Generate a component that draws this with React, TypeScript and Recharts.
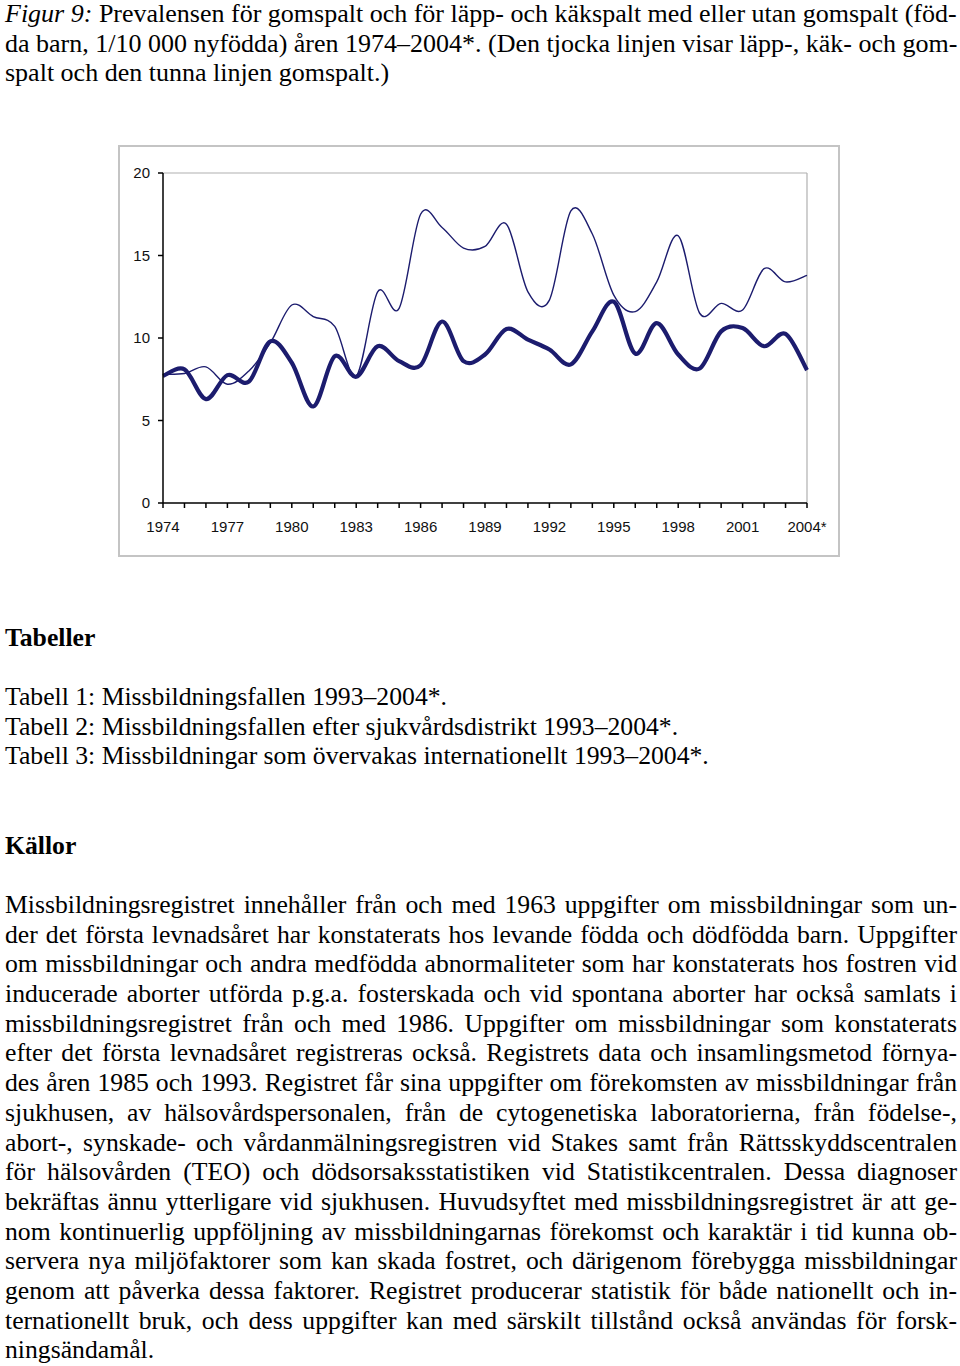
import { LineChart, Line, XAxis, YAxis, ReferenceLine } from "recharts";

const years = [
  "1974", "1975", "1976", "1977", "1978", "1979", "1980", "1981", "1982", "1983",
  "1984", "1985", "1986", "1987", "1988", "1989", "1990", "1991", "1992", "1993",
  "1994", "1995", "1996", "1997", "1998", "1999", "2000", "2001", "2002", "2003", "2004*",
];
// tjocka linjen: läpp-, käk- och gomspalt
const lkg = [
  7.7, 8.1, 6.3, 7.75, 7.35, 9.8, 8.5, 5.85, 8.9, 7.65,
  9.5, 8.6, 8.35, 11.0, 8.6, 9.0, 10.55, 9.9, 9.3, 8.4,
  10.4, 12.2, 9.05, 10.9, 9.0, 8.15, 10.4, 10.6, 9.5, 10.25, 8.05,
];
// tunna linjen: gomspalt
const gom = [
  7.8, 7.85, 8.25, 7.2, 8.0, 9.7, 12.0, 11.3, 10.7, 7.7,
  12.8, 11.8, 17.5, 16.7, 15.45, 15.55, 16.9, 12.8, 12.3, 17.7,
  16.3, 12.6, 11.6, 13.4, 16.2, 11.5, 12.1, 11.7, 14.2, 13.4, 13.8,
];
const yTicks = [0, 5, 10, 15, 20];

const data = years.map((year, i) => ({ year, lkg: lkg[i], gom: gom[i] }));

const titleLines = [
  "Figur 9: Prevalensen för gomspalt och för läpp- och käkspalt med eller utan gomspalt (föd-",
  "da barn, 1/10 000 nyfödda) åren 1974–2004*. (Den tjocka linjen visar läpp-, käk- och gom-",
  "spalt och den tunna linjen gomspalt.)",
];
const tabLines = [
  "Tabell 1: Missbildningsfallen 1993–2004*.",
  "Tabell 2: Missbildningsfallen efter sjukvårdsdistrikt 1993–2004*.",
  "Tabell 3: Missbildningar som övervakas internationellt 1993–2004*.",
];
const bodyLines = [
  "Missbildningsregistret innehåller från och med 1963 uppgifter om missbildningar som un-",
  "der det första levnadsåret har konstaterats hos levande födda och dödfödda barn. Uppgifter",
  "om missbildningar och andra medfödda abnormaliteter som har konstaterats hos fostren vid",
  "inducerade aborter utförda p.g.a. fosterskada och vid spontana aborter har också samlats i",
  "missbildningsregistret från och med 1986. Uppgifter om missbildningar som konstaterats",
  "efter det första levnadsåret registreras också. Registrets data och insamlingsmetod  förnya-",
  "des åren 1985 och 1993. Registret får sina uppgifter om förekomsten av missbildningar från",
  "sjukhusen, av hälsovårdspersonalen, från de cytogenetiska laboratorierna, från födelse-,",
  "abort-, synskade- och vårdanmälningsregistren vid Stakes samt från Rättsskyddscentralen",
  "för hälsovården (TEO) och dödsorsaksstatistiken vid Statistikcentralen. Dessa diagnoser",
  "bekräftas ännu ytterligare vid sjukhusen. Huvudsyftet med missbildningsregistret är att ge-",
  "nom kontinuerlig uppföljning av missbildningarnas förekomst och karaktär i tid kunna ob-",
  "servera nya miljöfaktorer som kan skada fostret, och därigenom förebygga missbildningar",
  "genom att påverka dessa faktorer. Registret producerar statistik för både nationellt och in-",
  "ternationellt bruk, och dess uppgifter kan med särskilt tillstånd också användas för forsk-",
  "ningsändamål.",
];

// Excel-like smoothed line (cardinal spline, tension 0)
function excelCurve(context: any) {
  let pts: number[][] = [];
  return {
    areaStart() {},
    areaEnd() {},
    lineStart() {
      pts = [];
    },
    point(x: number, y: number) {
      pts.push([+x, +y]);
    },
    lineEnd() {
      if (!pts.length) return;
      context.moveTo(pts[0][0], pts[0][1]);
      for (let i = 0; i < pts.length - 1; i++) {
        const p0 = pts[i - 1] || pts[i];
        const p1 = pts[i];
        const p2 = pts[i + 1];
        const p3 = pts[i + 2] || pts[i + 1];
        context.bezierCurveTo(
          p1[0] + (p2[0] - p0[0]) / 6,
          p1[1] + (p2[1] - p0[1]) / 6,
          p2[0] - (p3[0] - p1[0]) / 6,
          p2[1] - (p3[1] - p1[1]) / 6,
          p2[0],
          p2[1]
        );
      }
    },
  };
}

const serif = "'Liberation Serif', 'Times New Roman', serif";
const sans = "'Liberation Sans', Arial, sans-serif";
const navy = "#1c1c6e";

function YearTick({ x, y, payload, index }: any) {
  if (index % 3 !== 0) return null;
  return (
    <text x={x} y={y} dy="0.71em" textAnchor="middle" fontSize={15} fontFamily={sans} fill="#111">
      {payload.value}
    </text>
  );
}

function Lines({ lines, top, bold = false, last = false }: { lines: string[]; top: number; bold?: boolean; last?: boolean }) {
  return (
    <div style={{ position: "absolute", left: 5, top, width: 952 }}>
      {lines.map((t, i) => (
        <div
          key={i}
          style={{
            whiteSpace: "nowrap",
            textAlign: "left",
            textAlignLast: last && i < lines.length - 1 ? "justify" : "left",
            height: 29.7,
            lineHeight: "29.7px",
            fontWeight: bold ? "bold" : "normal",
          }}
        >
          {t}
        </div>
      ))}
    </div>
  );
}

export default function App() {
  return (
    <div style={{ position: "absolute", left: 0, top: 0, width: 960, height: 1366, fontFamily: serif, fontSize: 25.7, color: "#000", background: "#fff", overflow: "hidden" }}>
      <div style={{ position: "absolute", left: 5, top: 0, width: 950, fontSize: 26 }}>
        {titleLines.map((t, i) => (
          <div
            key={i}
            style={{
              height: i === 0 ? 28.6 : 29.2,
              lineHeight: i === 0 ? "28.6px" : "29.2px",
              textAlignLast: i < 2 ? "justify" : "left",
              whiteSpace: "nowrap",
            }}
          >
            {i === 0 ? (
              <>
                <i>Figur 9:</i>
                {t.slice(8)}
              </>
            ) : (
              t
            )}
          </div>
        ))}
      </div>

      <div style={{ position: "absolute", left: 118, top: 145, width: 718, height: 408, border: "2px solid #c4c4c4" }}>
        <LineChart width={718} height={408} data={data} margin={{ top: 26, right: 31, bottom: 20, left: 11 }}>
          <XAxis
            dataKey="year"
            interval={0}
            tick={<YearTick />}
            tickSize={5}
            tickMargin={13}
            height={32}
            axisLine={{ stroke: "#000", strokeWidth: 1.5 }}
            tickLine={{ stroke: "#000", strokeWidth: 1.5 }}
          />
          <YAxis
            domain={[0, 20]}
            ticks={yTicks}
            width={32}
            tickSize={5}
            tickMargin={8}
            tick={{ fontSize: 15, fontFamily: sans, fill: "#111" }}
            axisLine={{ stroke: "#000", strokeWidth: 1.5 }}
            tickLine={{ stroke: "#000", strokeWidth: 1.5 }}
          />
          <ReferenceLine y={20} stroke="#b0b0b0" strokeWidth={1.2} />
          <ReferenceLine x="2004*" stroke="#b0b0b0" strokeWidth={1.2} />
          <Line type={excelCurve as any} dataKey="gom" stroke={navy} strokeWidth={1.4} dot={false} isAnimationActive={false} />
          <Line type={excelCurve as any} dataKey="lkg" stroke={navy} strokeWidth={4.2} dot={false} isAnimationActive={false} />
        </LineChart>
      </div>

      <Lines lines={["Tabeller"]} top={623} bold />
      <Lines lines={tabLines} top={682} />
      <Lines lines={["Källor"]} top={831} bold />
      <Lines lines={bodyLines} top={890} last />
    </div>
  );
}
